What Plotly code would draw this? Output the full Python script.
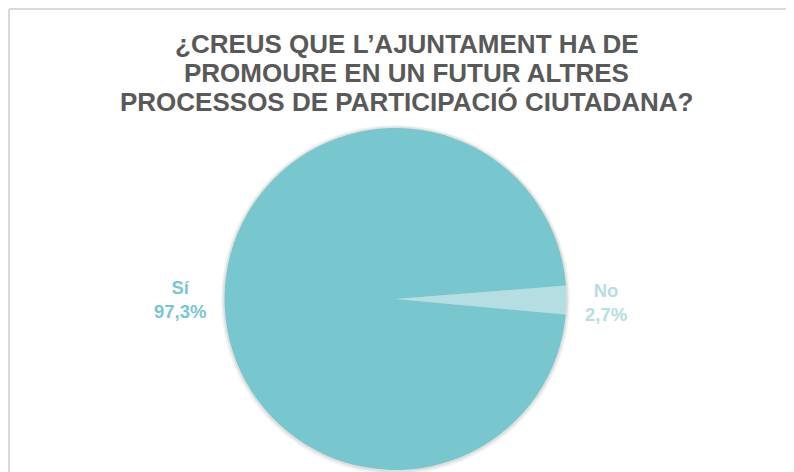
import math
import plotly.graph_objects as go

labels = ["No", "Sí"]
values = [2.7, 97.3]
colors = ["#B4DEE2", "#79C7CE"]
title_lines = [
    "¿CREUS QUE L’AJUNTAMENT HA DE",
    "PROMOURE EN UN FUTUR ALTRES",
    "PROCESSOS DE PARTICIPACIÓ CIUTADANA?",
]

W, H = 794, 472
ML, MR, MT, MB = 0, 0, 120, 10
PW, PH = W - ML - MR, H - MT - MB
PIE_W = 775  # width of the pie's domain inside the plot area
ROT = 85.5


def px(fx):
    return (fx - ML) / PW


def py(fy):
    return 1 - (fy - MT) / PH


# pie geometry (as plotly lays it out)
R = min(PIE_W, PH) / 2
CX, CY = ML + PIE_W / 2, MT + PH / 2

fig = go.Figure(
    go.Pie(
        labels=labels,
        values=values,
        sort=False,
        direction="clockwise",
        rotation=ROT,
        domain=dict(x=[0, PIE_W / PW], y=[0, 1]),
        marker=dict(colors=colors, line=dict(width=0)),
        textinfo="none",
        showlegend=False,
        hoverinfo="label+percent",
    )
)

annotations = []
# slice labels placed outside each slice's mid-angle
total = sum(values)
start = ROT
for lab, val, col in zip(labels, values, colors):
    span = 360 * val / total
    mid = math.radians(start + span / 2)
    start += span
    gap = R + 17
    fx = CX + gap * math.sin(mid)
    fy = CY - gap * math.cos(mid) + 2
    txt = f"<b>{lab}<br>{val:.1f}%</b>".replace(".", ",")
    annotations.append(dict(
        x=px(fx), y=py(fy), xref="paper", yref="paper",
        text=txt, showarrow=False,
        xanchor="left" if math.sin(mid) > 0 else "right", yanchor="middle",
        align="center",
        font=dict(size=18.5, color=col, family="Liberation Sans"),
    ))

# title lines
title_y = [35.5, 64.5, 94]
for line, ty in zip(title_lines, title_y):
    annotations.append(dict(
        x=px(398.5), y=py(ty), xref="paper", yref="paper",
        text=f"<b>{line}</b>", showarrow=False,
        xanchor="center", yanchor="middle",
        font=dict(size=26, color="#595959", family="Liberation Sans"),
    ))

shadow = [
    dict(type="circle", xref="paper", yref="paper", layer="below",
         x0=px(CX - R - 3.5), x1=px(CX + R + 3.5), y0=py(CY + R + 4.5), y1=py(CY - R - 3),
         fillcolor="#F2F2F2", line=dict(width=0)),
    dict(type="circle", xref="paper", yref="paper", layer="below",
         x0=px(CX - R - 1.8), x1=px(CX + R + 1.8), y0=py(CY + R + 2.5), y1=py(CY - R - 1.5),
         fillcolor="#E0E0E0", line=dict(width=0)),
]

border = [
    dict(type="line", xref="paper", yref="paper",
         x0=px(1), x1=px(W), y0=py(1), y1=py(1),
         line=dict(color="#D9D9D9", width=2)),
    dict(type="line", xref="paper", yref="paper",
         x0=px(1), x1=px(1), y0=py(1), y1=py(H),
         line=dict(color="#D9D9D9", width=2)),
]

fig.update_layout(
    width=W,
    height=H,
    margin=dict(l=ML, r=MR, t=MT, b=MB, autoexpand=False),
    paper_bgcolor="white",
    plot_bgcolor="white",
    font=dict(family="Liberation Sans"),
    annotations=annotations,
    shapes=shadow + border,
)

fig.write_html("out.html")
